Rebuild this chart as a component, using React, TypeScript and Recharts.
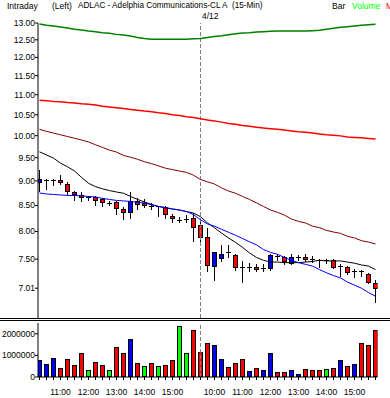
import React from 'react';
import { ComposedChart, Bar, Line, XAxis, YAxis, ReferenceLine } from 'recharts';

const FONT = "'Liberation Sans', Arial, sans-serif";

// 15-min bars, 4/11 from 10:15 and 4/12 from 9:30
const times = [
  '10:15', '10:30', '10:45', '11:00', '11:15', '11:30', '11:45', '12:00', '12:15', '12:30', '12:45', '13:00',
  '13:15', '13:30', '13:45', '14:00', '14:15', '14:30', '14:45', '15:00', '15:15', '15:30', '15:45',
  '9:30', '9:45', '10:00', '10:15', '10:30', '10:45', '11:00', '11:15', '11:30', '11:45', '12:00', '12:15',
  '12:30', '12:45', '13:00', '13:15', '13:30', '13:45', '14:00', '14:15', '14:30', '14:45', '15:00', '15:15',
  '15:30', '15:45',
];

const open = [
  8.97, 9.01, 9.01, 9.02, 8.94, 8.78, 8.71, 8.66, 8.67, 8.63, 8.55, 8.56, 8.43, 8.38, 8.58, 8.55, 8.49, 8.48,
  8.46, 8.30, 8.22, 8.23, 8.25, 8.12, 7.90, 7.39, 7.52, 7.62, 7.57, 7.36, 7.36, 7.36, 7.34, 7.34, 7.56, 7.53,
  7.44, 7.54, 7.53, 7.50, 7.49, 7.49, 7.49, 7.38, 7.37, 7.29, 7.29, 7.24, 7.10,
];
const high = [
  9.24, 9.03, 9.05, 9.12, 8.97, 8.80, 8.77, 8.69, 8.69, 8.65, 8.58, 8.58, 8.46, 8.78, 8.64, 8.63, 8.55, 8.49,
  8.48, 8.33, 8.27, 8.32, 8.36, 8.24, 8.06, 7.63, 7.76, 7.75, 7.60, 7.46, 7.43, 7.41, 7.42, 7.59, 7.59, 7.55,
  7.59, 7.58, 7.59, 7.55, 7.51, 7.51, 7.51, 7.42, 7.39, 7.33, 7.32, 7.27, 7.15,
];
const low = [
  8.80, 8.83, 8.91, 8.93, 8.73, 8.60, 8.58, 8.60, 8.50, 8.49, 8.50, 8.34, 8.23, 8.25, 8.43, 8.47, 8.43, 8.30,
  8.26, 8.17, 8.17, 8.17, 7.83, 7.81, 7.30, 7.14, 7.46, 7.53, 7.31, 7.12, 7.29, 7.29, 7.29, 7.32, 7.49, 7.42,
  7.41, 7.49, 7.47, 7.45, 7.37, 7.43, 7.34, 7.21, 7.24, 7.20, 7.21, 7.10, 6.79,
];
const close = [
  9.03, 9.01, 9.01, 8.97, 8.80, 8.73, 8.67, 8.66, 8.60, 8.57, 8.55, 8.45, 8.37, 8.58, 8.53, 8.51, 8.49, 8.48,
  8.33, 8.25, 8.22, 8.23, 8.08, 7.90, 7.40, 7.62, 7.59, 7.62, 7.36, 7.36, 7.36, 7.33, 7.34, 7.57, 7.56, 7.47,
  7.54, 7.54, 7.51, 7.50, 7.49, 7.49, 7.36, 7.38, 7.28, 7.29, 7.29, 7.12, 7.02,
];

const volume = [
  770000, 620000, 890000, 430000, 850000, 570000, 1120000, 340000, 710000, 570000, 340000, 1370000, 1120000,
  1770000, 630000, 520000, 630000, 490000, 570000, 800000, 2340000, 1120000, 2180000, 1170000, 1580000,
  1490000, 850000, 480000, 660000, 850000, 290000, 430000, 340000, 1120000, 250000, 250000, 340000, 120000,
  380000, 340000, 340000, 380000, 430000, 800000, 520000, 620000, 1580000, 1490000, 2180000,
];
const volColor = [
  'blue', 'blue', 'blue', 'red', 'red', 'red', 'red', 'green', 'red', 'red', 'green', 'red', 'red', 'blue',
  'red', 'green', 'red', 'green', 'red', 'red', 'green', 'green', 'red', 'red', 'red', 'blue', 'blue', 'red',
  'red', 'red', 'blue', 'red', 'blue', 'blue', 'red', 'red', 'blue', 'blue', 'red', 'red', 'red', 'green',
  'red', 'blue', 'red', 'blue', 'red', 'red', 'red',
];

// overlay lines
const greenLine = [
  12.97, 12.93, 12.91, 12.88, 12.85, 12.81, 12.79, 12.76, 12.74, 12.71, 12.69, 12.66, 12.64, 12.61, 12.57,
  12.54, 12.52, 12.52, 12.52, 12.52, 12.52, 12.52, 12.53, 12.54, 12.57, 12.6, 12.62, 12.65, 12.68, 12.7,
  12.71, 12.73, 12.74, 12.75, 12.76, 12.76, 12.76, 12.76, 12.76, 12.77, 12.78, 12.81, 12.84, 12.87, 12.89,
  12.91, 12.93, 12.95, 12.96,
];
const redLine = [
  10.86, 10.85, 10.83, 10.82, 10.8, 10.79, 10.77, 10.76, 10.74, 10.71, 10.69, 10.67, 10.65, 10.63, 10.61,
  10.59, 10.575, 10.55, 10.53, 10.5, 10.48, 10.45, 10.43, 10.4, 10.37, 10.35, 10.32, 10.29, 10.27, 10.24,
  10.22, 10.2, 10.18, 10.165, 10.15, 10.13, 10.11, 10.09, 10.08, 10.06, 10.04, 10.02, 10.01, 9.995, 9.97,
  9.96, 9.95, 9.935, 9.92,
];
const maroonLine = [
  10.15, 10.1, 10.06, 10.02, 9.98, 9.94, 9.9, 9.855, 9.79, 9.73, 9.67, 9.625, 9.55, 9.51, 9.465, 9.41, 9.37,
  9.32, 9.27, 9.24, 9.21, 9.18, 9.12, 9.03, 8.98, 8.935, 8.855, 8.79, 8.745, 8.68, 8.62, 8.55, 8.48, 8.41,
  8.365, 8.31, 8.235, 8.19, 8.16, 8.1, 8.07, 8.02, 7.99, 7.965, 7.91, 7.88, 7.83, 7.805, 7.77,
];
const blackLine = [
  9.63, 9.56, 9.49, 9.38, 9.3, 9.21, 9.075, 8.95, 8.88, 8.835, 8.8, 8.77, 8.745, 8.68, 8.62, 8.57, 8.52,
  8.48, 8.45, 8.43, 8.41, 8.38, 8.35, 8.28, 8.16, 8.07, 7.97, 7.88, 7.8, 7.71, 7.61, 7.53, 7.48, 7.45, 7.45,
  7.44, 7.44, 7.44, 7.45, 7.46, 7.48, 7.47, 7.47, 7.47, 7.45, 7.43, 7.4, 7.38, 7.32,
];
const blueLine = [
  8.75, 8.73, 8.72, 8.71, 8.7, 8.7, 8.69, 8.68, 8.67, 8.64, 8.62, 8.6, 8.59, 8.58, 8.56, 8.55, 8.51, 8.48,
  8.46, 8.43, 8.41, 8.38, 8.32, 8.22, 8.14, 8.1, 8.04, 7.985, 7.93, 7.87, 7.81, 7.755, 7.67, 7.62, 7.585,
  7.53, 7.48, 7.44, 7.41, 7.38, 7.32, 7.265, 7.22, 7.18, 7.11, 7.06, 7.01, 6.94, 6.88,
];

const priceTicks = [7.01, 7.5, 8, 8.5, 9, 9.5, 10, 10.5, 11, 11.5, 12, 12.5, 13];
const volumeTicks = [0, 1000000, 2000000];
const newDayIndex = 23;

const COLORS: Record<string, string> = { red: '#ff0000', blue: '#0000ff', green: '#00ff00' };

const rows = times.map((t, i) => ({
  i,
  t,
  open: open[i],
  high: high[i],
  low: low[i],
  close: close[i],
  range: [low[i], high[i]],
  vol: volume[i],
  volColor: volColor[i],
  green: greenLine[i],
  red: redLine[i],
  maroon: maroonLine[i],
  black: blackLine[i],
  blue: blueLine[i],
}));

const xDomain: [number, number] = [-0.2143, 48.2857];
const allIdx = rows.map((r) => r.i);

const Candle = (props: any) => {
  const { x, y, width, height, payload } = props;
  if (x == null || y == null) return <g />;
  const cx = Math.floor(x + width / 2) + 0.5;
  const top = Math.min(y, y + height);
  const bot = Math.max(y, y + height);
  const lh = Math.log(payload.high);
  const ll = Math.log(payload.low);
  const span = lh - ll || 1;
  // open/close placed between the bar's high and low ends on the log scale
  const py = (v: number) => top + ((bot - top) * (lh - Math.log(v))) / span;
  const o = payload.open;
  const c = payload.close;
  const wick = <line x1={cx} x2={cx} y1={Math.round(top)} y2={Math.round(bot) + 1} stroke="#000" strokeWidth={1} />;
  if (o === c) {
    const yy = Math.round(py(o)) + 0.5;
    return (
      <g>
        {wick}
        <line x1={cx - 2.5} x2={cx + 2.5} y1={yy} y2={yy} stroke="#000" strokeWidth={1} />
      </g>
    );
  }
  const bTop = Math.round(py(Math.max(o, c))) + 0.5;
  let bBot = Math.round(py(Math.min(o, c))) + 0.5;
  if (bBot - bTop < 2) bBot = bTop + 2;
  return (
    <g>
      {wick}
      <rect x={cx - 2} y={bTop} width={4} height={bBot - bTop} fill={c > o ? COLORS.blue : COLORS.red} stroke="#000" strokeWidth={1} />
    </g>
  );
};

const VolBar = (props: any) => {
  const { x, y, width, height, payload } = props;
  if (x == null || y == null) return <g />;
  const cx = Math.floor(x + width / 2) + 0.5;
  const top = Math.round(y) + 0.5;
  const bot = Math.round(y + height) - 0.5;
  return <rect x={cx - 2} y={top} width={4} height={Math.max(bot - top, 1)} fill={COLORS[payload.volColor]} stroke="#000" strokeWidth={1} />;
};

const TimeTick = (props: any) => {
  const { x, y, payload } = props;
  const t = times[payload.value];
  if (!t || !t.endsWith(':00')) return <g />;
  return (
    <text x={x} y={y} dy={12.5} textAnchor="middle" fontSize={8.5} fontFamily={FONT} fill="#000">
      {t}
    </text>
  );
};

const txt: React.CSSProperties = { position: 'absolute', fontSize: 8.5, lineHeight: '12px', whiteSpace: 'nowrap', fontFamily: FONT };

export default function App() {
  return (
    <div style={{ position: 'absolute', left: 0, top: 0, width: 390, height: 398, background: '#fff', overflow: 'hidden', fontFamily: FONT }}>
      <div style={{ ...txt, left: 7, top: 0 }}>Intraday</div>
      <div style={{ ...txt, left: 52, top: 0 }}>(Left)</div>
      <div style={{ ...txt, left: 78, top: 0, fontSize: 8.2 }}>ADLAC - Adelphia Communications-CL A&nbsp;&nbsp;(15-Min)</div>
      <div style={{ ...txt, left: 332, top: 0 }}>Bar</div>
      <div style={{ ...txt, left: 352, top: 0, color: '#00ff00' }}>Volume</div>
      <div style={{ ...txt, left: 386, top: 0, color: '#ff0000' }}>M</div>
      <div style={{ ...txt, left: 202, top: 10 }}>4/12</div>

      <div style={{ position: 'absolute', left: 0, top: 0 }}>
        <ComposedChart width={390} height={320} data={rows} margin={{ top: 23, right: 12.5, bottom: 2, left: 0 }}>
          <XAxis type="number" dataKey="i" domain={xDomain} hide allowDataOverflow />
          <YAxis
            scale="log"
            type="number"
            domain={[6.54, 13]}
            allowDataOverflow
            ticks={priceTicks}
            interval={0}
            width={38}
            tickSize={3}
            tickMargin={0}
            axisLine={{ stroke: '#000' }}
            tickLine={{ stroke: '#000' }}
            tick={{ fontSize: 8.5, fill: '#000', fontFamily: FONT }}
            tickFormatter={(v: number) => v.toFixed(2)}
          />
          <ReferenceLine x={newDayIndex} stroke="#808080" strokeDasharray="4 2" />
          <Line dataKey="green" stroke="#008000" strokeWidth={1.5} dot={false} isAnimationActive={false} />
          <Line dataKey="red" stroke="#ff0000" strokeWidth={1.5} dot={false} isAnimationActive={false} />
          <Line dataKey="maroon" stroke="#800000" strokeWidth={1} dot={false} isAnimationActive={false} />
          <Line dataKey="black" stroke="#000000" strokeWidth={1} dot={false} isAnimationActive={false} />
          <Line dataKey="blue" stroke="#0000ff" strokeWidth={1} dot={false} isAnimationActive={false} />
          <Bar dataKey="range" barSize={5} shape={<Candle />} isAnimationActive={false} />
        </ComposedChart>
      </div>

      <div style={{ position: 'absolute', left: 0, top: 320 }}>
        <ComposedChart width={390} height={78} data={rows} margin={{ top: 3, right: 12.5, bottom: 0, left: 0 }}>
          <XAxis
            type="number"
            dataKey="i"
            domain={xDomain}
            allowDataOverflow
            ticks={allIdx}
            interval={0}
            height={21}
            tickSize={3}
            tickMargin={2}
            axisLine={{ stroke: '#000' }}
            tickLine={{ stroke: '#000' }}
            tick={<TimeTick />}
          />
          <YAxis
            type="number"
            domain={[0, 2500000]}
            allowDataOverflow
            ticks={volumeTicks}
            interval={0}
            width={38}
            tickSize={3}
            tickMargin={0}
            axisLine={{ stroke: '#000' }}
            tickLine={{ stroke: '#000' }}
            tick={{ fontSize: 8.5, fill: '#000', fontFamily: FONT }}
            tickFormatter={(v: number) => String(v)}
          />
          <ReferenceLine x={newDayIndex} stroke="#808080" strokeDasharray="4 2" />
          <Bar dataKey="vol" barSize={5} shape={<VolBar />} isAnimationActive={false} />
        </ComposedChart>
      </div>

      <div style={{ position: 'absolute', left: 0, top: 318, width: 390, height: 1, background: '#000' }} />
      <div style={{ position: 'absolute', left: 0, top: 320, width: 390, height: 1, background: '#000' }} />
    </div>
  );
}
